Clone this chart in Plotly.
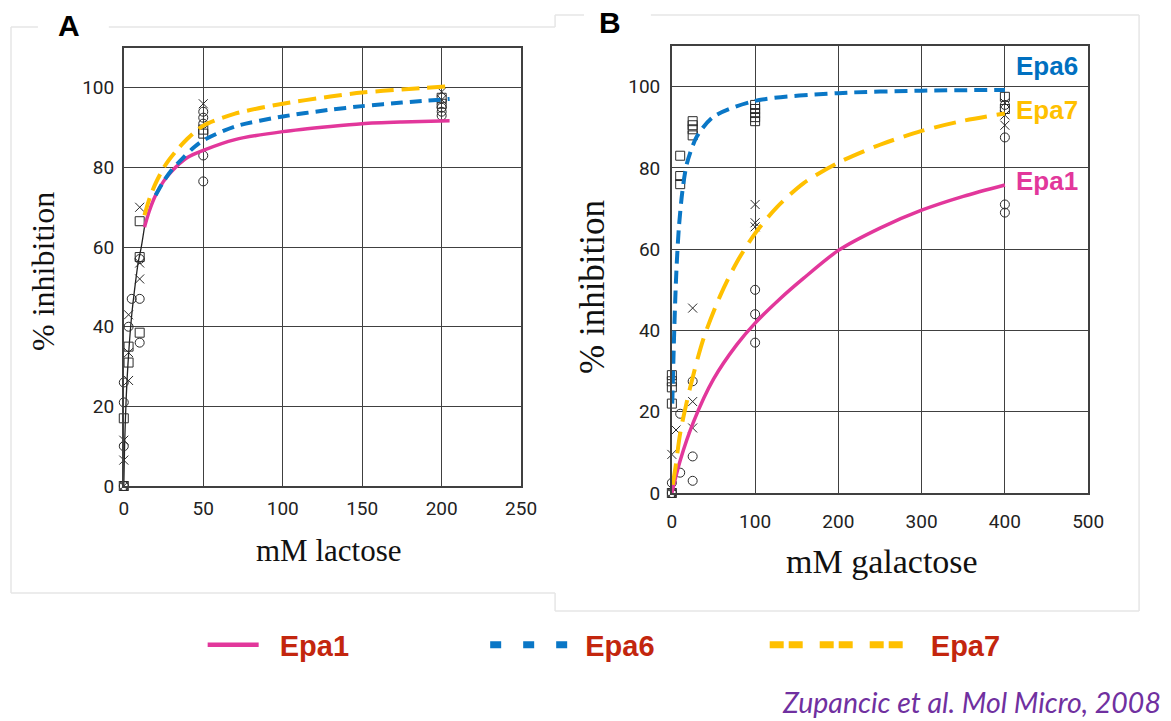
import plotly.graph_objects as go

# Positions are laid out in reference-picture pixels (1171 x 721) and given to Plotly as
# paper fractions; the figure itself is made slightly larger because the page photo is
# reduced by about 1.6 %.
REF_W, REF_H = 1171, 721
W, H = 1190, 733
def px(x): return x / REF_W
def py(y): return 1 - y / REF_H

# ---------------- Panel A: lactose ----------------
lac_epa1_pts_x = [0, 0, 0, 0, 3, 5, 10, 10, 10, 50, 50, 50, 50, 50, 200, 200, 200]
lac_epa1_pts_y = [0, 10, 21, 26, 40, 47, 47, 36, 57, 94, 92.5, 91, 83, 76.5, 95, 94, 93]
lac_epa6_pts_x = [0, 0, 3, 3, 10, 10, 10, 50, 50, 200, 200]
lac_epa6_pts_y = [0, 17, 31, 35, 38.5, 57.5, 66.5, 89.5, 88.5, 97.5, 96]
lac_epa7_pts_x = [0, 0, 0, 3, 3, 3, 10, 10, 10, 50, 200, 200]
lac_epa7_pts_y = [0, 6.5, 11.5, 26.5, 33.5, 43, 52, 56, 70, 96, 99, 97]

lac_fit_low_x = [0, 0.5, 1.5, 3, 5, 7, 9, 11, 13]
lac_fit_low_y = [0, 10, 22, 33, 43, 50, 56, 60, 65]
lac_epa1_fit_x = [13, 16, 20, 25, 30, 40, 50, 70, 100, 130, 150, 175, 205]
lac_epa1_fit_y = [65, 69, 73, 76.5, 79, 82.5, 84.3, 87, 89, 90.3, 91, 91.4, 91.7]
lac_epa6_fit_x = [20, 25, 30, 37, 44, 50, 70, 100, 130, 150, 175, 205]
lac_epa6_fit_y = [73, 76.5, 79.3, 82.3, 85, 86.8, 90.3, 92.8, 94.5, 95.4, 96.3, 97.2]
lac_epa7_fit_x = [13, 16, 20, 26, 32, 40, 50, 70, 100, 130, 150, 175, 205]
lac_epa7_fit_y = [68, 72, 76, 80.5, 83.7, 87.2, 90.5, 93.5, 96, 97.8, 98.8, 99.6, 100.4]

# ---------------- Panel B: galactose ----------------
gal_epa1_pts_x = [0, 0, 10, 10, 25, 25, 25, 100, 100, 100, 400, 400, 400, 400]
gal_epa1_pts_y = [0, 2.5, 19.5, 5, 27.5, 9, 3, 50, 44, 37, 95.5, 87.5, 71, 69]
gal_epa6_pts_x = [0, 0, 0, 0, 0, 10, 10, 10, 25, 25, 25, 25, 100, 100, 100, 100, 100, 400, 400]
gal_epa6_pts_y = [0, 29, 27.5, 26, 22, 83, 78, 76, 91.5, 90.5, 89.5, 88, 95.5, 94.5, 93.5, 92.5, 91.5, 97.5, 94.5]
gal_epa7_pts_x = [0, 0, 5, 25, 25, 25, 100, 100, 100, 400, 400, 400]
gal_epa7_pts_y = [0, 9.5, 15.5, 45.5, 22.5, 16, 71, 66.5, 65.5, 96, 93, 90.5]

gal_epa1_fit_x = [0, 10, 26, 50, 78, 100, 130, 158, 200, 250, 300, 350, 400]
gal_epa1_fit_y = [0, 8, 17.5, 28, 36.5, 41.8, 47.8, 52.8, 59.7, 65.2, 69.6, 73, 75.8]
gal_epa6_fit_x = [0.5, 1.5, 3, 4.5, 6, 8.5, 12.5, 18, 30, 50, 100, 200, 300, 400]
gal_epa6_fit_y = [22, 30, 41, 50, 57, 65.5, 74, 81, 87.7, 92.6, 96.5, 98.4, 99, 99.2]
gal_epa7_fit_x = [1, 4.5, 10, 22, 38, 58, 78, 100, 126, 158, 200, 250, 300, 350, 400]
gal_epa7_fit_y = [2, 6.5, 14.7, 26, 38, 48.5, 56.8, 63.9, 70.3, 76.2, 81.3, 85.7, 89.1, 91.6, 93.4]

series_names = ["Epa1", "Epa6", "Epa7"]

PINK = "#E2379B"
BLUE = "#0A77C6"
YELLOW = "#FFC000"
LEG_RED = "#C3260E"
GRID = "#404040"

fig = go.Figure()

def marker_trace(x, y, symbol, xa, ya):
    return go.Scatter(x=x, y=y, mode="markers", xaxis=xa, yaxis=ya, showlegend=False,
                      cliponaxis=False, hoverinfo="skip",
                      marker=dict(symbol=symbol, size=9, color="#2a2a2a",
                                  line=dict(color="#2a2a2a", width=1)))

def line_trace(x, y, color, width, dash, xa, ya):
    return go.Scatter(x=x, y=y, mode="lines", xaxis=xa, yaxis=ya, showlegend=False,
                      hoverinfo="skip", line=dict(color=color, width=width, dash=dash,
                                                  shape="spline", smoothing=0.8))

# Panel A
fig.add_trace(line_trace(lac_fit_low_x, lac_fit_low_y, "#222", 1.3, "solid", "x", "y"))
fig.add_trace(marker_trace(lac_epa1_pts_x, lac_epa1_pts_y, "circle-open", "x", "y"))
fig.add_trace(marker_trace(lac_epa6_pts_x, lac_epa6_pts_y, "square-open", "x", "y"))
fig.add_trace(marker_trace(lac_epa7_pts_x, lac_epa7_pts_y, "x-thin-open", "x", "y"))
fig.add_trace(line_trace(lac_epa1_fit_x, lac_epa1_fit_y, PINK, 3.5, "solid", "x", "y"))
fig.add_trace(line_trace(lac_epa6_fit_x, lac_epa6_fit_y, BLUE, 4, "12px,7px", "x", "y"))
fig.add_trace(line_trace(lac_epa7_fit_x, lac_epa7_fit_y, YELLOW, 4, "18px,8px", "x", "y"))

# Panel B
fig.add_trace(marker_trace(gal_epa1_pts_x, gal_epa1_pts_y, "circle-open", "x2", "y2"))
fig.add_trace(marker_trace(gal_epa6_pts_x, gal_epa6_pts_y, "square-open", "x2", "y2"))
fig.add_trace(marker_trace(gal_epa7_pts_x, gal_epa7_pts_y, "x-thin-open", "x2", "y2"))
fig.add_trace(line_trace(gal_epa1_fit_x, gal_epa1_fit_y, PINK, 3.5, "solid", "x2", "y2"))
fig.add_trace(line_trace(gal_epa6_fit_x, gal_epa6_fit_y, BLUE, 4, "13px,7px", "x2", "y2"))
fig.add_trace(line_trace(gal_epa7_fit_x, gal_epa7_fit_y, YELLOW, 4, "22px,10px", "x2", "y2"))

# Legend-only traces, each in its own legend so the key lengths can differ
NBSP = "\u00a0"
leg_styles = [
    (PINK, "solid", 4.5, "legend", 2, 51),
    (BLUE, "11px,22px", 7, "legend2", 1, 82),
    (YELLOW, "14px,5px,14px,17px", 7, "legend3", 2, 140),
]
for name, (c, d, w, lg, pad, iw) in zip(series_names, leg_styles):
    fig.add_trace(go.Scatter(x=[None], y=[None], mode="lines", name=NBSP * pad + name,
                             legend=lg, line=dict(color=c, dash=d, width=w),
                             xaxis="x", yaxis="y"))

tickfont = dict(family="Roboto, Liberation Sans, sans-serif", size=19, color="#222")
common = dict(showgrid=True, gridcolor=GRID, gridwidth=1.4, showline=True, linecolor=GRID,
              linewidth=1.6, mirror=True, zeroline=False, ticks="", tickfont=tickfont,
              fixedrange=True)

leg_font = dict(family="Liberation Sans, Arial, sans-serif", size=29, color=LEG_RED, weight="bold")
def legend_at(x0, iw):
    return dict(orientation="h", x=px(x0), y=py(645), xanchor="left", yanchor="middle",
                font=leg_font, itemwidth=iw, bgcolor="rgba(0,0,0,0)")

fig.update_layout(
    width=W, height=H, margin=dict(l=0, r=0, t=0, b=0),
    paper_bgcolor="white", plot_bgcolor="white",
    xaxis=dict(common, domain=[px(119), px(517)], range=[0, 250], dtick=50, anchor="y",
               ticklabelstandoff=4),
    yaxis=dict(common, domain=[py(486), py(48)], range=[0, 110], dtick=20, anchor="x",
               ticklabelstandoff=4),
    xaxis2=dict(common, domain=[px(668), px(1085)], range=[0, 500], dtick=100, anchor="y2",
                ticklabelstandoff=10),
    yaxis2=dict(common, domain=[py(493), py(46)], range=[0, 110], dtick=20, anchor="x2",
                ticklabelstandoff=6),
    showlegend=True,
    legend=legend_at(198, leg_styles[0][5]),
    legend2=legend_at(481, leg_styles[1][5]),
    legend3=legend_at(761, leg_styles[2][5]),
)

serif = "Liberation Serif, Times New Roman, serif"
sans = "Liberation Sans, Arial, sans-serif"
ann = []
def add_text(text, x, y, size, family, color="#111", angle=0, bold=False, italic=False,
             xanchor="center"):
    f = dict(family=family, size=size, color=color)
    if bold:
        f["weight"] = "bold"
    if italic:
        f["style"] = "italic"
    ann.append(dict(text=text, x=px(x), y=py(y), xref="paper", yref="paper", showarrow=False,
                    xanchor=xanchor, yanchor="middle", textangle=angle, font=f))

add_text("% inhibition", 38, 271, 32, serif, angle=-90)
add_text("mM lactose", 325, 550, 31, serif)
add_text("% inhibition", 588, 287, 35, serif, angle=-90)
add_text("mM galactose", 879, 561, 34, serif)
add_text("A", 64, 26, 30, sans, color="#000", bold=True)
add_text("B", 606, 23, 30, sans, color="#000", bold=True)
add_text("Epa6", 1044, 66, 26, sans, color="#0070C0", bold=True)
add_text("Epa7", 1044, 110, 26, sans, color=YELLOW, bold=True)
add_text("Epa1", 1044, 181, 26, sans, color=PINK, bold=True)
add_text("Zupancic et al. Mol Micro, 2008", 968, 702, 28.5, "Lato, Carlito, sans-serif",
         color="#7030A0", italic=True)
fig.update_layout(annotations=ann)

# faint panel borders
BORDER = "#e6e6e6"
def seg(x0, y0, x1, y1):
    return dict(type="line", xref="paper", yref="paper", x0=px(x0), y0=py(y0), x1=px(x1), y1=py(y1),
                line=dict(color=BORDER, width=1.5), layer="below")
shapes = [
    seg(6, 27, 33, 27), seg(104, 27, 551, 27), seg(6, 27, 6, 593), seg(6, 593, 551, 593),
    seg(551, 15, 551, 27), seg(551, 15, 580, 15), seg(647, 15, 1136, 15),
    seg(1136, 15, 1136, 611), seg(551, 593, 551, 611), seg(551, 611, 1136, 611),
]
fig.update_layout(shapes=shapes)

fig.write_html("out.html")
